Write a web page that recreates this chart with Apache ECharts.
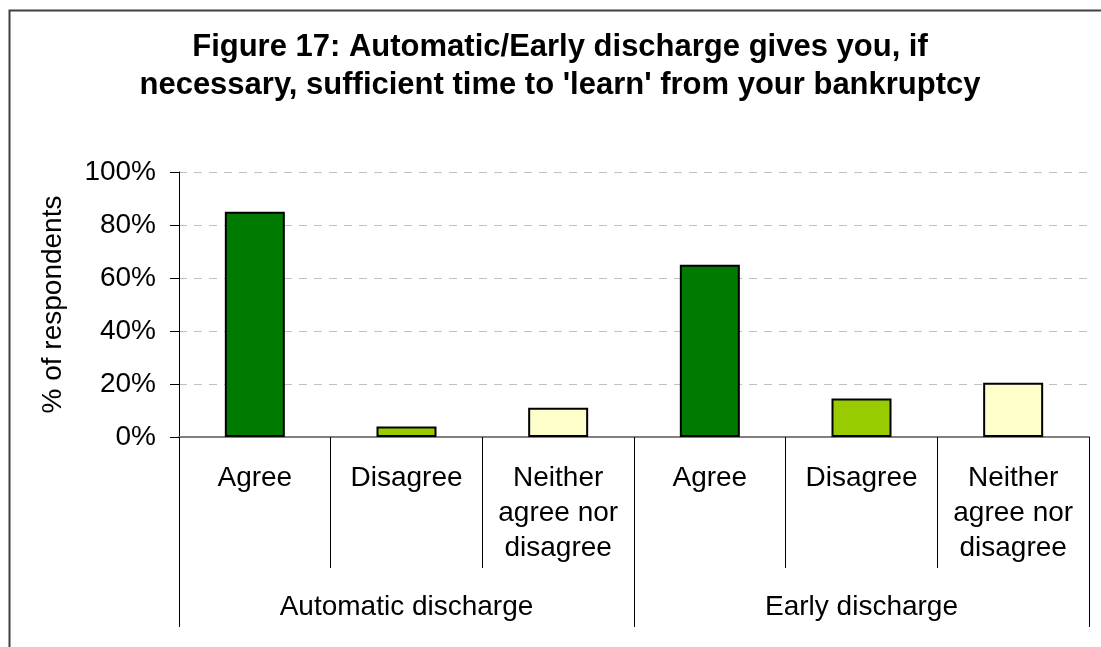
<!DOCTYPE html>
<html>
<head>
<meta charset="utf-8">
<script src="https://cdn.jsdelivr.net/npm/echarts@6/dist/echarts.min.js"></script>
<style>
  html, body { margin: 0; padding: 0; background: #fff; }
  #chart { width: 1101px; height: 647px; }
</style>
</head>
<body>
<div id="chart"></div>
<script>
// Survey responses, % of respondents
const groups = ['Automatic discharge', 'Early discharge'];
const responses = ['Agree', 'Disagree', 'Neither\nagree nor\ndisagree'];
const automaticValues = [85, 4, 11];
const earlyValues = [65, 14.5, 20.5];
const yTicks = [0, 20, 40, 60, 80, 100];
const responseColors = ['#007A00', '#99CC00', '#FFFFCC'];

// one category per (group, response) pair; the label shows only the response
const categories = [];
groups.forEach(g => responses.forEach(r => categories.push(g + '|' + r)));
const values = automaticValues.concat(earlyValues);

const FONT = 'Liberation Sans, Arial, sans-serif';
const chart = echarts.init(document.getElementById('chart'));

chart.setOption({
  animation: false,
  backgroundColor: '#fff',
  textStyle: { fontFamily: FONT },
  title: {
    text: "Figure 17: Automatic/Early discharge gives you, if\nnecessary, sufficient time to 'learn' from your bankruptcy",
    left: 560,
    top: 28,
    padding: 0,
    textAlign: 'center',
    textStyle: { fontSize: 31, fontWeight: 'bold', color: '#000', lineHeight: 38, fontFamily: FONT }
  },
  graphic: [{
    type: 'rect',
    shape: { x: 9.5, y: 10.5, width: 1200, height: 700 },
    style: { fill: 'none', stroke: '#404040', lineWidth: 2 },
    silent: true
  }],
  grid: { left: 179, right: 12, top: 172, bottom: 210 },
  xAxis: [{
    type: 'category',
    data: categories,
    position: 'bottom',
    axisLine: { show: true, lineStyle: { color: '#808080', width: 2 } },
    axisTick: { show: true, interval: 0, length: 131, lineStyle: { color: '#000', width: 1 } },
    axisLabel: {
      interval: 0,
      margin: 24,
      fontSize: 28,
      lineHeight: 35,
      color: '#000',
      fontFamily: FONT,
      formatter: v => v.split('|')[1]
    }
  }, {
    type: 'category',
    data: groups,
    position: 'bottom',
    axisLine: { show: false },
    axisTick: { show: true, interval: 0, length: 190, lineStyle: { color: '#000', width: 1 } },
    axisLabel: { interval: 0, margin: 156, fontSize: 28, lineHeight: 28, color: '#000', fontFamily: FONT }
  }],
  yAxis: {
    type: 'value',
    min: yTicks[0],
    max: yTicks[yTicks.length - 1],
    interval: yTicks[1] - yTicks[0],
    name: '% of respondents',
    nameLocation: 'middle',
    nameRotate: 90,
    nameGap: 112,
    nameTextStyle: { fontSize: 28, color: '#000', fontFamily: FONT },
    axisLine: { show: true, lineStyle: { color: '#000', width: 1 } },
    axisTick: { show: true, length: 9, lineStyle: { color: '#000' } },
    axisLabel: { formatter: '{value}%', fontSize: 28, color: '#000', margin: 23, fontFamily: FONT },
    splitLine: { show: true, lineStyle: { color: '#c0c0c0', type: [8, 7], width: 1 } }
  },
  series: [{
    type: 'bar',
    xAxisIndex: 0,
    data: values,
    barWidth: 60,
    itemStyle: {
      color: p => responseColors[p.dataIndex % responses.length],
      borderColor: '#000',
      borderWidth: 2
    }
  }]
});
</script>
</body>
</html>
